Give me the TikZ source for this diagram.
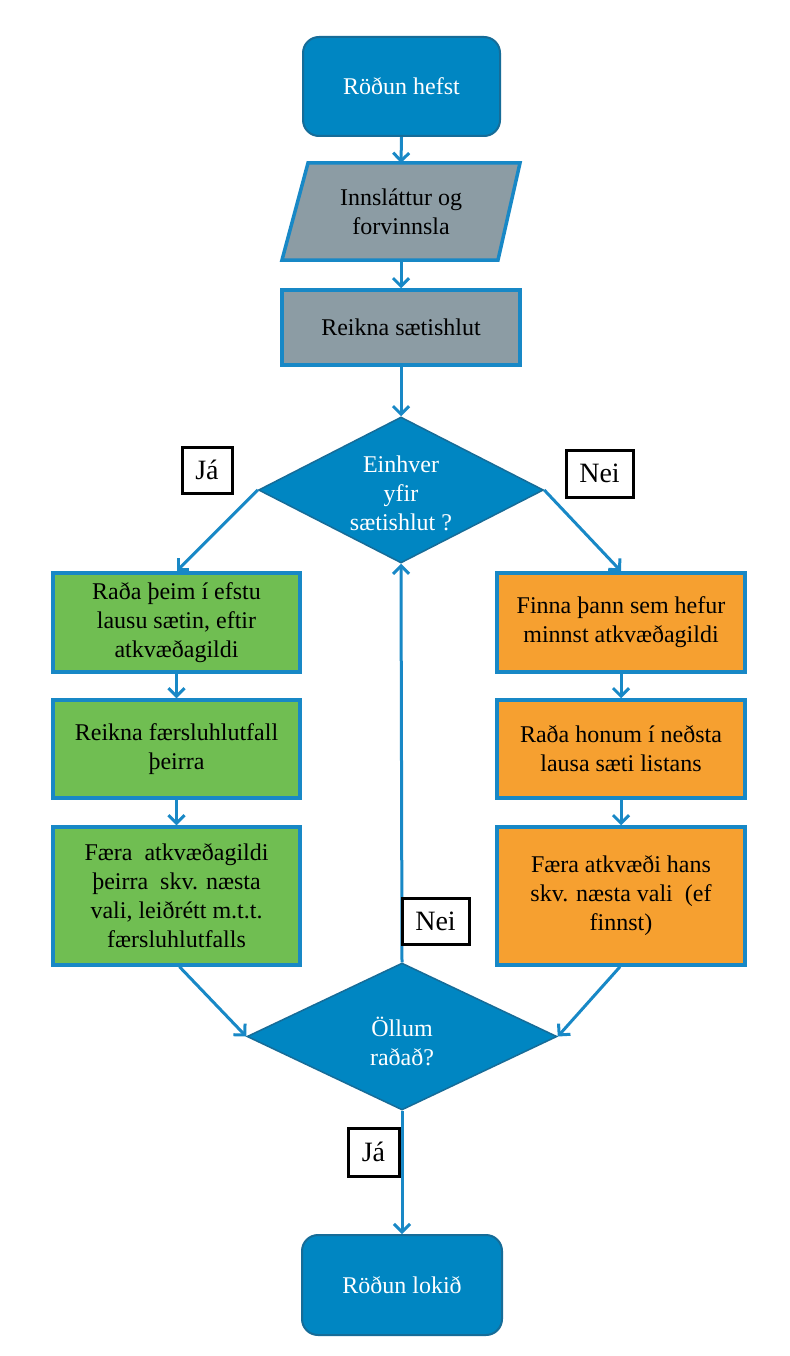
\documentclass[tikz,border=0pt]{standalone}
\usepackage{fontspec}
\setmainfont{Liberation Serif}
\usetikzlibrary{shapes.geometric,arrows.meta}
\definecolor{cblue}{RGB}{0,134,194}
\definecolor{cblueD}{RGB}{22,108,152}
\definecolor{cline}{RGB}{24,136,198}
\definecolor{cgray}{RGB}{140,156,164}
\definecolor{cgreen}{RGB}{112,190,82}
\definecolor{corange}{RGB}{246,160,48}
\begin{document}
\begin{tikzpicture}[x=1pt,y=-1pt,
  txt/.style={font=\fontsize{24}{29}\selectfont, align=center},
  term/.style={txt, rounded corners=16pt, fill=cblue, draw=cblueD, line width=2pt, minimum width=197pt, minimum height=99pt, text=white},
  procbox/.style={txt, draw=cline, line width=3.5pt, minimum height=98pt, inner sep=4pt},
  gbox/.style={procbox, fill=cgreen, minimum width=247pt},
  obox/.style={procbox, fill=corange, minimum width=248pt},
  dia/.style={diamond, fill=cblue, draw=cblueD, line width=1.5pt, inner sep=0pt},
  lab/.style={font=\fontsize{28}{32}\selectfont, draw=black, fill=white, line width=3pt, inner sep=0pt},
  arr/.style={draw=cline, line width=3pt, -{Straight Barb[length=8pt,width=16pt,line width=3pt]}}
]
\useasboundingbox (0,0) rectangle (789,1356);
\fill[white] (0,0) rectangle (789,1356);

% start
\node[term] (start) at (401.5,86.5) {Röðun hefst};

% input parallelogram
\filldraw[fill=cgray, draw=cline, line width=3.5pt, line join=miter]
  (308,163) -- (520,163) -- (498,260) -- (282,260) -- cycle;
\coordinate (inpT) at (401,163);
\coordinate (inpB) at (401,260);
\node[txt] (inp) at (401,211.5) {Innsláttur og\\forvinnsla};

% compute
\node[procbox, fill=cgray, minimum width=238pt, minimum height=75pt] (calc) at (401,327.5) {Reikna sætishlut};

% decision 1
\node[dia, minimum width=285pt, minimum height=146pt] (d1) at (401,490) {};
\node[txt, text=white] (d1t) at (401,493) {Einhver\\yfir\\sætishlut ?};

% green column
\node[gbox, minimum height=99pt] (g1) at (176.5,622.5) {Raða þeim í efstu\\lausu sætin, eftir\\atkvæðagildi};
\node[gbox] (g2) at (176.5,749) {Reikna færsluhlutfall\\þeirra};
\node[gbox, minimum height=138pt] (g3) at (176.5,896) {Færa\ \ atkvæðagildi\\þeirra\ \ skv. næsta\\vali, leiðrétt m.t.t.\\færsluhlutfalls};

% orange column
\node[obox, minimum height=99pt] (o1) at (621,622.5) {Finna þann sem hefur\\minnst atkvæðagildi};
\node[obox] (o2) at (621,749) {Raða honum í neðsta\\lausa sæti listans};
\node[obox, minimum height=138pt] (o3) at (621,896) {Færa atkvæði hans\\skv. næsta vali\ \ (ef\\finnst)};

% decision 2
\node[dia, minimum width=310pt, minimum height=147pt] (d2) at (402,1036.5) {};
\node[txt, text=white] (d2t) at (402,1041) {Öllum\\raðað?};

% end
\node[term, minimum width=200pt, minimum height=100pt] (end) at (402,1285) {Röðun lokið};

% connectors
\draw[arr] (start.south) -- (inpT);
\draw[arr] (inpB) -- (calc.north);
\draw[arr] (calc.south) -- (d1.north);
\draw[arr] (d1.west) -- (g1.north);
\draw[arr] (d1.east) -- (o1.north);
\draw[arr] (g1.south) -- (g2.north);
\draw[arr] (g2.south) -- (g3.north);
\draw[arr] (o1.south) -- (o2.north);
\draw[arr] (o2.south) -- (o3.north);
\draw[arr] ([xshift=3pt]g3.south) -- (d2.west);
\draw[arr] ([xshift=-1pt]o3.south) -- (d2.east);
\draw[arr] (d2.north) -- (d1.south);
\draw[arr] (d2.south) -- (end.north);

% labels
\node[lab, minimum width=50pt, minimum height=46pt] (ja1) at (207,470) {Já};
\node[lab, minimum width=67pt, minimum height=47pt] (nei1) at (599.5,473.5) {Nei};
\node[lab, minimum width=67pt, minimum height=46pt] (nei2) at (435.5,921) {Nei};
\node[lab, minimum width=51pt, minimum height=48pt] (ja2) at (373.5,1152) {Já};
\end{tikzpicture}
\end{document}
